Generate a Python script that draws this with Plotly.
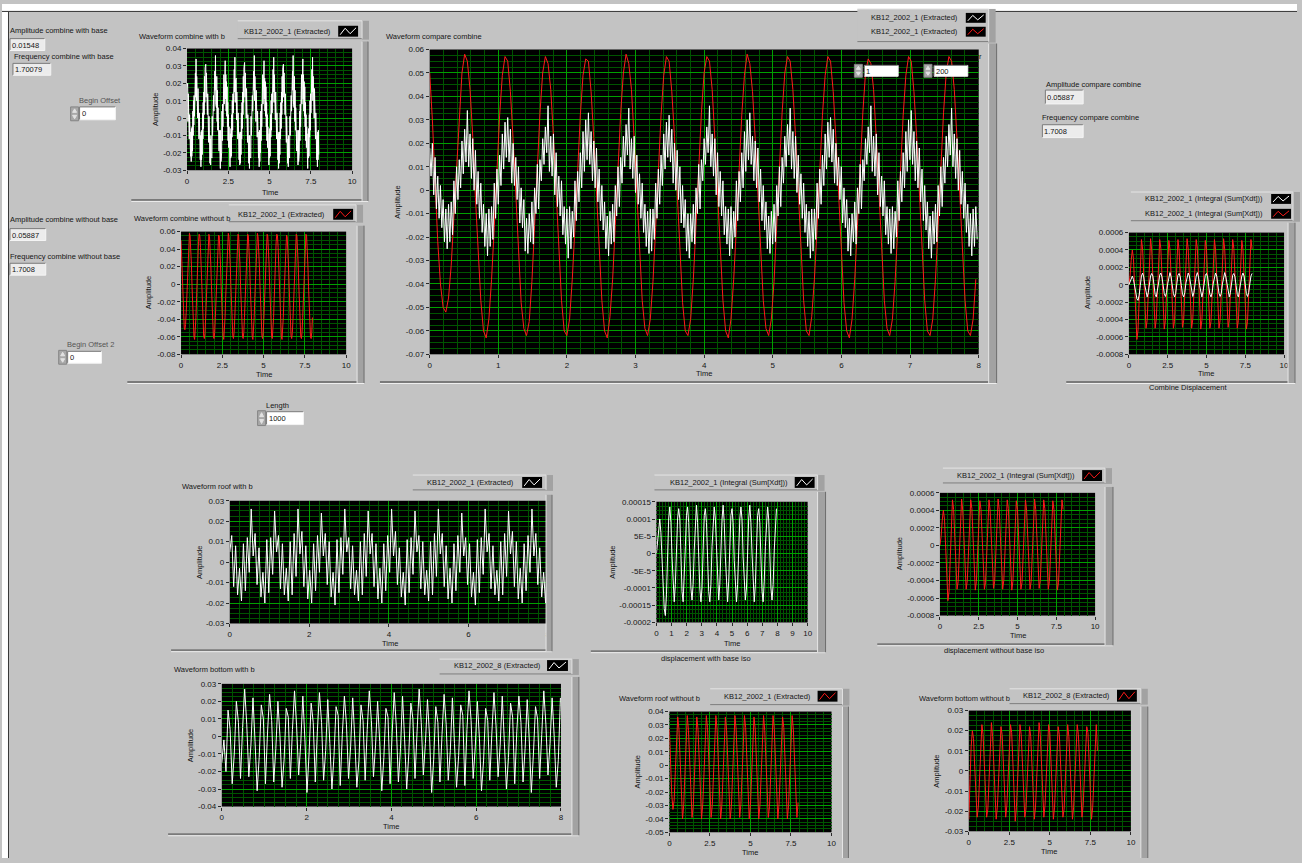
import plotly.graph_objects as go

W, H = 1302, 863
FONT = "Liberation Sans, Arial, Helvetica, sans-serif"
PANEL = "#c3c3c3"
MAJOR = "#00a000"
MINOR = "#005400"
INK = "#161616"
WHITE_TRACE = "#ffffff"
RED_TRACE = "#ff1a1a"

# ---------------- waveform data ----------------
DT_COMBINE_WITH = 0.0196   # s between samples, combine waveform with base
DT_COMBINE = 0.0392        # s between samples, combine waveform without base
DT_WITH_BASE = 0.049       # s between samples of roof/bottom "with base" waveforms
DT_SINE = 0.0735           # s between samples of the smoother waveforms

combine_with_base = [
    0.018, 0.006, 0.020, -0.002, 0.014, -0.008, 0.006, -0.012, 0.002, -0.016, -0.004, -0.022, -0.008, -0.025,
    -0.006, -0.022, -0.005, -0.019, 0.004, -0.010, 0.010, -0.004, 0.013, 0.001, 0.021, 0.007, 0.026, 0.012,
    0.034, 0.010, 0.024, 0.005, 0.022, 0.000, 0.017, -0.006, 0.008, -0.012, 0.003, -0.018, -0.006, -0.024, -0.010,
    -0.028, -0.008, -0.024, -0.007, -0.021, 0.003, -0.012, 0.009, -0.006, 0.015, 0.002, 0.024, 0.009, 0.029, 0.014,
    0.031, 0.012, 0.026, 0.003, 0.020, 0.002, 0.014, -0.004, 0.010, -0.014, 0.001, -0.016, -0.004, -0.026, -0.012,
    -0.027, -0.010, -0.022, -0.005, -0.023, 0.001, -0.010, 0.011, -0.008, 0.013, 0.004, 0.022, 0.011, 0.027, 0.016,
    0.036, 0.008, 0.023, 0.006, 0.024, -0.002, 0.016, -0.007, 0.006, -0.011, 0.004, -0.019, -0.007, -0.023, -0.008,
    -0.029, -0.007, -0.025, -0.009, -0.020, 0.004, -0.013, 0.008, -0.005, 0.016, 0.001, 0.025, 0.008, 0.030, 0.013,
    0.033, 0.011, 0.025, 0.004, 0.021, 0.001, 0.018, -0.005, 0.009, -0.013, 0.002, -0.017, -0.005, -0.025, -0.011,
    -0.028, -0.009, -0.023, -0.006, -0.022, 0.002, -0.011, 0.010, -0.007, 0.014, 0.003, 0.023, 0.010, 0.028, 0.015,
    0.035, 0.009, 0.022, 0.005, 0.023, -0.001, 0.015, -0.006, 0.007, -0.012, 0.003, -0.018, -0.006, -0.024, -0.009,
    -0.027, -0.008, -0.026, -0.008, -0.021, 0.003, -0.012, 0.009, -0.006, 0.015, 0.002, 0.024, 0.009, 0.029, 0.014,
    0.032, 0.012, 0.026, 0.003, 0.020, 0.000, 0.017, -0.004, 0.010, -0.014, 0.002, -0.016, -0.004, -0.026, -0.010,
    -0.029, -0.010, -0.022, -0.006, -0.023, 0.001, -0.010, 0.011, -0.008, 0.013, 0.004, 0.022, 0.011, 0.027, 0.016,
    0.036, 0.010, 0.024, 0.006, 0.022, -0.002, 0.016, -0.007, 0.008, -0.011, 0.004, -0.019, -0.007, -0.023, -0.008,
    -0.028, -0.007, -0.025, -0.009, -0.020, 0.004, -0.013, 0.008, -0.005, 0.016, 0.001, 0.025, 0.008, 0.030, 0.013,
    0.033, 0.011, 0.023, 0.004, 0.021, 0.001, 0.018, -0.005, 0.009, -0.013, 0.002, -0.017, -0.005, -0.025, -0.011,
    -0.027, -0.009, -0.023, -0.006, -0.022, 0.002, -0.011, 0.010, -0.007, 0.014, 0.003, 0.023, 0.010, 0.028, 0.015,
    0.035, 0.009, 0.025, 0.005, 0.023, -0.001, 0.015, -0.006, 0.007, -0.012, 0.003, -0.018, -0.006, -0.024, -0.009,
    -0.029, -0.008, -0.026, -0.008, -0.021, 0.003, -0.012, 0.009, -0.006, 0.015, 0.002, 0.024, 0.009, 0.029, 0.014,
    0.031, 0.012, 0.026, 0.003, 0.020, 0.002, 0.014, -0.004, 0.010, -0.014, 0.001, -0.016, -0.004, -0.026, -0.012,
    -0.028, -0.010, -0.022, -0.005, -0.023, 0.001, -0.010, 0.011, -0.008, 0.013, 0.004, 0.022, 0.011, 0.027, 0.016,
    0.036, 0.008, 0.023, 0.006, 0.024, -0.002, 0.016, -0.007, 0.006, -0.011, 0.004, -0.019, -0.007, -0.023, -0.008,
    -0.027, -0.007, -0.025, -0.009, -0.020, 0.004, -0.013, 0.008, -0.005, 0.016, 0.001, 0.025, 0.008, 0.030, 0.013,
    0.034, 0.011, 0.025, 0.004, 0.021, 0.001, 0.018, -0.005, 0.009, -0.013, 0.002, -0.017, -0.005, -0.025, -0.011,
    -0.029, -0.009, -0.023, -0.006, -0.022, 0.002, -0.011, 0.010, -0.007, 0.014, 0.003, 0.023, 0.010, 0.028, 0.015,
    0.035, 0.010, 0.024, 0.005, 0.022, 0.000, 0.017, -0.006, 0.008, -0.012, 0.003, -0.018, -0.006, -0.024, -0.010,
    -0.028, -0.008, -0.024, -0.007, -0.021,
]

combine_without_base = [
    0.050, 0.030, 0.004, -0.022, -0.040, -0.050, -0.052, -0.046, -0.032, -0.012, 0.011, 0.033, 0.050, 0.058, 0.055,
    0.043, 0.023, -0.003, -0.027, -0.047, -0.060, -0.063, -0.055, -0.038, -0.016, 0.010, 0.032, 0.049, 0.057, 0.055,
    0.042, 0.022, -0.002, -0.026, -0.048, -0.059, -0.062, -0.056, -0.039, -0.015, 0.009, 0.033, 0.050, 0.057, 0.054,
    0.043, 0.023, -0.002, -0.027, -0.047, -0.060, -0.062, -0.055, -0.038, -0.016, 0.010, 0.032, 0.049, 0.056, 0.055,
    0.042, 0.022, -0.003, -0.027, -0.047, -0.060, -0.063, -0.054, -0.038, -0.015, 0.010, 0.033, 0.050, 0.058, 0.054,
    0.043, 0.022, -0.002, -0.026, -0.047, -0.059, -0.062, -0.055, -0.039, -0.016, 0.009, 0.032, 0.049, 0.057, 0.055,
    0.042, 0.023, -0.002, -0.027, -0.048, -0.060, -0.062, -0.055, -0.038, -0.015, 0.010, 0.033, 0.050, 0.057, 0.055,
    0.043, 0.022, -0.003, -0.027, -0.047, -0.060, -0.063, -0.055, -0.038, -0.016, 0.010, 0.032, 0.049, 0.058, 0.054,
    0.042, 0.022, -0.002, -0.026, -0.047, -0.059, -0.062, -0.055, -0.039, -0.015, 0.009, 0.033, 0.050, 0.057, 0.055,
    0.043, 0.023, -0.002, -0.027, -0.047, -0.060, -0.062, -0.054, -0.038, -0.016, 0.010, 0.032, 0.049, 0.057, 0.055,
    0.042, 0.022, -0.003, -0.027, -0.048, -0.060, -0.063, -0.055, -0.038, -0.015, 0.010, 0.033, 0.050, 0.056, 0.054,
    0.043, 0.022, -0.002, -0.026, -0.047, -0.059, -0.062, -0.055, -0.039, -0.016, 0.009, 0.032, 0.049, 0.057, 0.055,
    0.042, 0.023, -0.002, -0.027, -0.047, -0.060, -0.062, -0.055, -0.038, -0.015, 0.010, 0.033, 0.050, 0.057, 0.055,
    0.043, 0.022, -0.003, -0.027, -0.047, -0.060, -0.062, -0.055, -0.038,
]

roof_with_base = [
    0.005, 0.013, -0.012, 0.008, -0.016, -0.003, -0.019, 0.009, -0.014, 0.012, -0.005,
    0.026, 0.003, 0.014, -0.011, 0.007, -0.017, -0.005, -0.020, 0.011, -0.015, 0.012, -0.006,
    0.025, 0.005, 0.013, -0.013, 0.009, -0.016, -0.003, -0.019, 0.010, -0.016, 0.014, -0.007,
    0.026, 0.004, 0.015, -0.012, 0.008, -0.018, -0.004, -0.020, 0.009, -0.014, 0.013, -0.005,
    0.024, 0.003, 0.014, -0.011, 0.010, -0.017, -0.005, -0.021, 0.011, -0.015, 0.012, -0.006,
    0.026, 0.005, 0.012, -0.013, 0.008, -0.016, -0.004, -0.019, 0.010, -0.016, 0.014, -0.007,
    0.025, 0.004, 0.014, -0.012, 0.009, -0.018, -0.003, -0.020, 0.009, -0.014, 0.013, -0.005,
    0.026, 0.003, 0.015, -0.011, 0.007, -0.017, -0.005, -0.021, 0.011, -0.015, 0.012, -0.006,
    0.025, 0.005, 0.013, -0.013, 0.010, -0.016, -0.004, -0.019, 0.010, -0.016, 0.014, -0.007,
    0.026, 0.004, 0.014, -0.012, 0.008, -0.018, -0.003, -0.020, 0.009, -0.014, 0.013, -0.005,
    0.024, 0.003, 0.012, -0.011, 0.009, -0.017, -0.005, -0.021, 0.011, -0.015, 0.012, -0.006,
    0.026, 0.005, 0.014, -0.013, 0.008, -0.016, -0.004, -0.019, 0.010, -0.016, 0.014, -0.007,
    0.025, 0.004, 0.015, -0.012, 0.010, -0.018, -0.003, -0.020, 0.009, -0.014, 0.013, -0.005,
    0.026, 0.003, 0.014, -0.011, 0.007, -0.017, -0.005, -0.020, 0.006,
]

bottom_with_base = [
    -0.015, -0.002, -0.020, 0.015, 0.004, -0.027, -0.010, 0.020, 0.008, -0.024, 0.005,
    0.027, 0.007, -0.023, -0.005, 0.022, -0.003, -0.031, -0.012, 0.018, 0.010, -0.027, 0.002,
    0.024, 0.009, -0.026, -0.007, 0.020, 0.000, -0.029, -0.013, 0.016, 0.011, -0.024, 0.004,
    0.026, 0.006, -0.022, -0.004, 0.023, -0.002, -0.032, -0.010, 0.019, 0.008, -0.026, 0.003,
    0.025, 0.008, -0.025, -0.008, 0.021, -0.004, -0.030, -0.011, 0.017, 0.012, -0.028, 0.001,
    0.023, 0.007, -0.024, -0.006, 0.022, -0.001, -0.029, -0.014, 0.018, 0.009, -0.025, 0.004,
    0.026, 0.009, -0.023, -0.005, 0.020, -0.003, -0.031, -0.012, 0.016, 0.011, -0.027, 0.002,
    0.025, 0.006, -0.026, -0.007, 0.023, -0.002, -0.030, -0.010, 0.019, 0.010, -0.024, 0.003,
    0.027, 0.008, -0.022, -0.004, 0.021, 0.000, -0.032, -0.013, 0.017, 0.008, -0.026, 0.001,
    0.024, 0.007, -0.025, -0.008, 0.022, -0.004, -0.029, -0.011, 0.018, 0.012, -0.028, 0.004,
    0.026, 0.009, -0.024, -0.006, 0.020, -0.001, -0.031, -0.014, 0.016, 0.009, -0.025, 0.002,
    0.025, 0.006, -0.023, -0.005, 0.023, -0.003, -0.030, -0.012, 0.019, 0.011, -0.027, 0.003,
    0.023, 0.008, -0.026, -0.007, 0.021, -0.002, -0.032, -0.010, 0.017, 0.010, -0.024, 0.001,
    0.026, 0.007, -0.022, -0.004, 0.022, 0.000, -0.029, -0.013, 0.022,
]

roof_without_base = [
    0.027, 0.000, -0.022, -0.033, -0.026, -0.004, 0.023, 0.036,
    0.027, 0.001, -0.027, -0.040, -0.030, -0.004, 0.024, 0.037,
    0.026, 0.002, -0.026, -0.039, -0.031, -0.003, 0.025, 0.036,
    0.027, 0.001, -0.027, -0.040, -0.029, -0.004, 0.024, 0.037,
    0.028, 0.000, -0.028, -0.039, -0.030, -0.005, 0.023, 0.037,
    0.027, 0.001, -0.027, -0.040, -0.030, -0.004, 0.024, 0.036,
    0.026, 0.002, -0.026, -0.040, -0.031, -0.003, 0.025, 0.037,
    0.027, 0.001, -0.027, -0.039, -0.029, -0.004, 0.024, 0.037,
    0.028, 0.000, -0.028, -0.040, -0.030, -0.005, 0.023, 0.036,
    0.027, 0.001, -0.027, -0.040, -0.030, -0.004, 0.024, 0.037,
    0.026, 0.002, -0.026, -0.039, -0.031, -0.003, 0.025, 0.037,
    0.027, 0.001, -0.027, -0.040, -0.029, -0.004, 0.024, 0.036,
    0.028, 0.000, -0.028, -0.040, -0.030, -0.005, 0.023, 0.037,
    0.027, 0.001, -0.027, -0.039, -0.028,
]

bottom_without_base = [
    -0.024, -0.004, 0.012, 0.020, 0.016, 0.002, -0.014, -0.023,
    -0.018, -0.003, 0.014, 0.023, 0.018, 0.003, -0.014, -0.023,
    -0.019, -0.002, 0.015, 0.024, 0.017, 0.002, -0.015, -0.024,
    -0.018, -0.003, 0.014, 0.022, 0.018, 0.004, -0.013, -0.023,
    -0.017, -0.004, 0.013, 0.023, 0.019, 0.003, -0.014, -0.025,
    -0.018, -0.003, 0.014, 0.023, 0.018, 0.003, -0.014, -0.023,
    -0.019, -0.002, 0.015, 0.022, 0.017, 0.002, -0.015, -0.024,
    -0.018, -0.003, 0.014, 0.024, 0.018, 0.004, -0.013, -0.023,
    -0.017, -0.004, 0.013, 0.023, 0.019, 0.003, -0.014, -0.024,
    -0.018, -0.003, 0.014, 0.022, 0.018, 0.003, -0.014, -0.023,
    -0.019, -0.002, 0.015, 0.023, 0.017, 0.002, -0.015, -0.024,
    -0.018, -0.003, 0.014, 0.023, 0.018, 0.004, -0.013, -0.023,
    -0.017, -0.004, 0.013, 0.022, 0.019, 0.003, -0.014, -0.024,
    -0.018, -0.003, 0.014, 0.023, 0.010,
]

disp_with_base = [
    0.0, 0.00003, 0.00007, 0.0001, 0.00006, -0.00003, -0.0001, -0.00016, -0.00018, -0.00012, -0.00001, 0.0001,
    0.000135, 0.00009, -0.00001, -0.0001, -0.00014, -0.00009, 0.00001, 0.0001,
    0.00013, 0.00010, 0.00000, -0.00011, -0.00014, -0.00008, 0.00002, 0.00011,
    0.000135, 0.00009, -0.00001, -0.0001, -0.000135, -0.00009, 0.00001, 0.0001,
    0.00014, 0.00009, -0.00002, -0.0001, -0.00014, -0.0001, 0.00001, 0.00011,
    0.00013, 0.00009, -0.00001, -0.00011, -0.00014, -0.00009, 0.00002, 0.0001,
    0.000135, 0.0001, 0.00000, -0.0001, -0.000135, -0.00009, 0.00001, 0.0001,
    0.00014, 0.00009, -0.00001, -0.0001, -0.00014, -0.00008, 0.00001, 0.00011,
    0.00013, 0.00009, -0.00002, -0.00011, -0.00014, -0.00009, 0.00002, 0.0001,
    0.000135, 0.0001, -0.00001, -0.0001, -0.000135, -0.0001, 0.00001, 0.0001,
    0.00014, 0.00009, 0.00000, -0.0001, -0.00014, -0.00009, 0.00001, 0.00011,
    0.00013, 0.00009, -0.00001, -0.00011, -0.00014, -0.00008, 0.00002, 0.0001,
    0.000135, 0.0001, -0.00001, -0.0001, -0.000135, -0.00009, 0.00001, 0.0001,
    0.00013,
]

disp_without_base = [
    0.0, 0.0001, 0.00028, 0.0004, 0.0003, 0.00002, -0.0004, -0.00063, -0.00052, -0.0001, 0.0003,
    0.00052, 0.00041, 0.00006, -0.00032, -0.00050, -0.00041, -0.00006, 0.00032,
    0.00053, 0.00040, 0.00005, -0.00033, -0.00050, -0.00040, -0.00007, 0.00031,
    0.00052, 0.00042, 0.00006, -0.00032, -0.00051, -0.00041, -0.00005, 0.00033,
    0.00051, 0.00041, 0.00007, -0.00031, -0.00050, -0.00042, -0.00006, 0.00032,
    0.00052, 0.00040, 0.00006, -0.00032, -0.00049, -0.00041, -0.00006, 0.00031,
    0.00053, 0.00041, 0.00005, -0.00033, -0.00050, -0.00040, -0.00007, 0.00032,
    0.00052, 0.00042, 0.00006, -0.00032, -0.00051, -0.00041, -0.00005, 0.00033,
    0.00051, 0.00041, 0.00007, -0.00031, -0.00050, -0.00042, -0.00006, 0.00032,
    0.00052, 0.00040, 0.00006, -0.00032, -0.00050, -0.00041, -0.00006, 0.00031,
    0.00053, 0.00041, 0.00005, -0.00033, -0.00049, -0.00040, -0.00007, 0.00032,
    0.00052, 0.00042, 0.00006, -0.00032, -0.00050, -0.00041, -0.00005, 0.00033,
    0.00051, 0.00041, 0.00007, -0.00031, -0.00051, -0.00042, -0.00006, 0.00032,
    0.00052, 0.00041,
]

# ---------------- tick labels ----------------
X_TICKS_0_10 = [0, 2.5, 5, 7.5, 10]
X_TICKS_0_8_BY1 = [0, 1, 2, 3, 4, 5, 6, 7, 8]
X_TICKS_0_8_BY2 = [0, 2, 4, 6, 8]
X_TICKS_0_10_BY1 = [0, 1, 2, 3, 4, 5, 6, 7, 8, 9, 10]
Y_TICKS_COMBINE_WITH = [-0.03, -0.02, -0.01, 0, 0.01, 0.02, 0.03, 0.04]
Y_TICKS_COMBINE_WITHOUT = [-0.08, -0.06, -0.04, -0.02, 0, 0.02, 0.04, 0.06]
Y_TICKS_COMPARE = [-0.07, -0.06, -0.05, -0.04, -0.03, -0.02, -0.01, 0, 0.01, 0.02, 0.03, 0.04, 0.05, 0.06]
Y_TICKS_DISP = [-0.0008, -0.0006, -0.0004, -0.0002, 0, 0.0002, 0.0004, 0.0006]
Y_TICKS_DISP_WITH = [-0.0002, -0.00015, -0.0001, -0.00005, 0, 0.00005, 0.0001, 0.00015]
Y_TEXT_DISP_WITH = ["-0.0002", "-0.00015", "-0.0001", "-5E-5", "0", "5E-5", "0.0001", "0.00015"]
Y_TICKS_ROOF_WITH = [-0.03, -0.02, -0.01, 0, 0.01, 0.02, 0.03]
Y_TICKS_BOTTOM_WITH = [-0.04, -0.03, -0.02, -0.01, 0, 0.01, 0.02, 0.03]
Y_TICKS_ROOF_WITHOUT = [-0.05, -0.04, -0.03, -0.02, -0.01, 0, 0.01, 0.02, 0.03, 0.04]
Y_TICKS_BOTTOM_WITHOUT = [-0.03, -0.02, -0.01, 0, 0.01, 0.02, 0.03]

LEG_EXTRACTED_1 = "KB12_2002_1 (Extracted)"
LEG_EXTRACTED_8 = "KB12_2002_8 (Extracted)"
LEG_INTEGRAL_1 = "KB12_2002_1 (Integral (Sum[Xdt]))"

# ---------------- helpers ----------------
fig = go.Figure()
shapes = []
annotations = []
TXT_SIZE = 7.5


def X(p):
    return p / W


def Y(p):
    return 1 - p / H


def fmt(v):
    return "0" if v == 0 else "%g" % v


def rect(x0, y0, x1, y1, fill, line=None, lw=1):
    shapes.append(dict(type="rect", xref="paper", yref="paper",
                       x0=X(x0), x1=X(x1), y0=Y(y1), y1=Y(y0), fillcolor=fill,
                       line=dict(color=line if line else fill, width=lw if line else 0),
                       layer="above"))


def seg(x0, y0, x1, y1, color, w=1):
    shapes.append(dict(type="line", xref="paper", yref="paper",
                       x0=X(x0), y0=Y(y0), x1=X(x1), y1=Y(y1),
                       line=dict(color=color, width=w), layer="above"))


def path(points, color, w=1, fill=None, close=False):
    d = "M " + " L ".join("%.5f,%.5f" % (X(a), Y(b)) for a, b in points) + (" Z" if close else "")
    shapes.append(dict(type="path", xref="paper", yref="paper", path=d,
                       line=dict(color=color, width=w),
                       fillcolor=fill if fill else "rgba(0,0,0,0)", layer="above"))


def text(x, y, s, anchor="left", size=TXT_SIZE, color=INK, angle=0):
    annotations.append(dict(xref="paper", yref="paper", x=X(x), y=Y(y), text=s,
                            showarrow=False, xanchor=anchor, yanchor="middle",
                            textangle=angle, borderpad=0,
                            font=dict(family=FONT, size=size, color=color)))


def numbox(x0, y0, x1, y1, value, fill="#ececec"):
    rect(x0, y0, x1, y1, fill)
    seg(x0, y0, x1, y0, "#7a7a7a")
    seg(x0, y0, x0, y1, "#7a7a7a")
    seg(x0, y1, x1, y1, "#f4f4f4")
    seg(x1, y0, x1, y1, "#f4f4f4")
    text(x0 + 1, (y0 + y1) / 2 + 0.5, value)


def spinner(x0, y0, x1, y1):
    rect(x0, y0, x1, y1, "#a8a8a8", "#858585")
    xm = (x0 + x1) / 2
    ym = (y0 + y1) / 2
    path([(x0 + 2, ym - 1.5), (xm, y0 + 2), (x1 - 2, ym - 1.5)], "#e2e2e2", 1, "#e2e2e2", True)
    path([(x0 + 2, ym + 1.5), (xm, y1 - 2), (x1 - 2, ym + 1.5)], "#e2e2e2", 1, "#e2e2e2", True)


def legend_box(x0, y0, x1, y1, rows, text_right, sw0, sw1):
    rect(x0, y0, x1, y1, PANEL)
    seg(x0, y0, x1, y0, "#e4e4e4")
    seg(x0, y1, x1, y1, "#7d7d7d")
    rect(x1, y0, x1 + 7, y1 + 1, "#a2a2a2")
    seg(x1, y0, x1, y1, "#e2e2e2")
    for label, color, sy0, sy1 in rows:
        text(text_right, (sy0 + sy1) / 2, label, anchor="right")
        rect(sw0, sy0, sw1, sy1, "#000000")
        path([(sw0 + 2, sy1 - 2), (sw0 + 7, sy0 + 2.5), (sw0 + 12, sy1 - 3), (sw1 - 2, sy0 + 2)], color, 1)


def frame(by, bx0, bx1, rx0, rx1, ry0, ry1):
    if by is not None:
        seg(bx0, by, bx1, by, "#7a7a7a", 2)
        seg(bx0, by + 1.5, bx1, by + 1.5, "#eeeeee", 1)
    rect(rx0, ry0, rx1, ry1, "#a2a2a2")
    seg(rx0, ry0, rx0, ry1, "#e6e6e6")
    seg(rx1, ry0, rx1, ry1, "#6e6e6e")


axis_common = dict(showgrid=True, gridcolor=MAJOR, gridwidth=1, zeroline=False, showline=False,
                   ticks="outside", ticklen=3, tickwidth=1, tickcolor="#2a2a2a",
                   tickfont=dict(family=FONT, size=8, color=INK), fixedrange=True)


def add_panel(n, box, xr, xt, xminor, yr, yt, yminor, series, ytext=None):
    x0, y0, x1, y1 = box
    s = "" if n == 1 else str(n)
    fig.update_layout({
        "xaxis" + s: dict(domain=[X(x0), X(x1)], range=xr, anchor="y" + s,
                          tickmode="array", tickvals=xt, ticktext=[fmt(v) for v in xt],
                          minor=dict(tickmode="linear", tick0=0, dtick=xminor, showgrid=True,
                                     gridcolor=MINOR, gridwidth=1, ticks=""),
                          **axis_common),
        "yaxis" + s: dict(domain=[Y(y1), Y(y0)], range=yr, anchor="x" + s,
                          tickmode="array", tickvals=yt,
                          ticktext=ytext if ytext else [fmt(v) for v in yt],
                          minor=dict(tickmode="linear", tick0=0, dtick=yminor, showgrid=True,
                                     gridcolor=MINOR, gridwidth=1, ticks=""),
                          **axis_common),
    })
    for vals, dt, color in series:
        fig.add_trace(go.Scatter(x=[i * dt for i in range(len(vals))], y=vals, mode="lines",
                                 line=dict(color=color, width=1), xaxis="x" + s, yaxis="y" + s,
                                 hoverinfo="skip", showlegend=False))


# ---------------- graphs ----------------
add_panel(1, (186, 45, 352, 168), [0, 10], X_TICKS_0_10, 0.5, [-0.03, 0.04], Y_TICKS_COMBINE_WITH, 0.0025,
          [(combine_with_base, DT_COMBINE_WITH, WHITE_TRACE)])
add_panel(2, (180, 230, 346, 354), [0, 10], X_TICKS_0_10, 0.5, [-0.08, 0.06], Y_TICKS_COMBINE_WITHOUT, 0.005,
          [(combine_without_base, DT_COMBINE, RED_TRACE)])
add_panel(3, (430, 46, 982, 354), [0, 8], X_TICKS_0_8_BY1, 0.2, [-0.07, 0.06], Y_TICKS_COMPARE, 0.0025,
          [(combine_without_base, DT_COMBINE, RED_TRACE), (combine_with_base, DT_COMBINE_WITH, WHITE_TRACE)])
add_panel(4, (1133, 231, 1289, 354), [0, 10], X_TICKS_0_10, 0.5, [-0.0008, 0.0006], Y_TICKS_DISP, 0.00005,
          [(disp_without_base, DT_SINE, RED_TRACE), (disp_with_base, DT_SINE, WHITE_TRACE)])
add_panel(5, (229, 502, 549, 626), [0, 8], X_TICKS_0_8_BY2, 0.25, [-0.03, 0.03], Y_TICKS_ROOF_WITH, 0.0025,
          [(roof_with_base, DT_WITH_BASE, WHITE_TRACE)])
add_panel(6, (658, 503, 810, 625), [0, 10], X_TICKS_0_10_BY1, 0.2, [-0.0002, 0.00015], Y_TICKS_DISP_WITH, 0.0000125,
          [(disp_with_base, DT_SINE, WHITE_TRACE)], ytext=Y_TEXT_DISP_WITH)
add_panel(7, (943, 494, 1099, 618), [0, 10], X_TICKS_0_10, 0.5, [-0.0008, 0.0006], Y_TICKS_DISP, 0.00005,
          [(disp_without_base, DT_SINE, RED_TRACE)])
add_panel(8, (221, 687, 562, 811), [0, 8], X_TICKS_0_8_BY2, 0.25, [-0.04, 0.03], Y_TICKS_BOTTOM_WITH, 0.0025,
          [(bottom_with_base, DT_WITH_BASE, WHITE_TRACE)])
add_panel(9, (671, 715, 834, 837), [0, 10], X_TICKS_0_10, 0.5, [-0.05, 0.04], Y_TICKS_ROOF_WITHOUT, 0.0025,
          [(roof_without_base, DT_SINE, RED_TRACE)])
add_panel(10, (972, 714, 1135, 836), [0, 10], X_TICKS_0_10, 0.5, [-0.03, 0.03], Y_TICKS_BOTTOM_WITHOUT, 0.0025,
          [(bottom_without_base, DT_SINE, RED_TRACE)])

# ---------------- panel decoration ----------------
rect(0, 0, W, 7, "#ffffff")
seg(0, 7.5, W, 7.5, "#333333", 1)
seg(6.5, 8, 6.5, H, "#333333", 1)
rect(0, 8, 6, H, "#ffffff")

# graph frames
frame(198, 130, 368, 362, 368, 38, 199)
frame(382, 126, 364, 357, 364, 224, 383)
frame(382, 380, 1000, 992, 1000, 40, 383)
frame(382, 1070, 1300, 1293, 1300, 221, 383)
frame(653, 170, 553, 547, 553, 496, 654)
frame(654, 592, 828, 820, 828, 493, 655)
frame(647, 880, 1117, 1109, 1117, 488, 648)
frame(839, 167, 580, 573, 580, 680, 840)
frame(None, 0, 0, 845, 851, 710, 863)
frame(None, 0, 0, 1145, 1152, 710, 863)

# legends
legend_box(237, 17, 362, 35, [(LEG_EXTRACTED_1, WHITE_TRACE, 22, 33)], 332, 338, 358)
legend_box(228, 203, 356, 220, [(LEG_EXTRACTED_1, RED_TRACE, 207, 218)], 326, 333, 353)
legend_box(860, 5, 992, 38, [(LEG_EXTRACTED_1, WHITE_TRACE, 9, 19), (LEG_EXTRACTED_1, RED_TRACE, 23, 33)], 962, 969, 989)
legend_box(1135, 190, 1298, 219, [(LEG_INTEGRAL_1, WHITE_TRACE, 192, 202), (LEG_INTEGRAL_1, RED_TRACE, 207, 217)], 1269, 1276, 1296)
legend_box(413, 476, 547, 491, [(LEG_EXTRACTED_1, WHITE_TRACE, 478, 489)], 516, 523, 543)
legend_box(656, 476, 820, 491, [(LEG_INTEGRAL_1, WHITE_TRACE, 478, 489)], 791, 797, 817)
legend_box(946, 469, 1109, 484, [(LEG_INTEGRAL_1, RED_TRACE, 471, 482)], 1080, 1086, 1106)
legend_box(440, 662, 573, 677, [(LEG_EXTRACTED_8, WHITE_TRACE, 663, 674)], 543, 548, 569)
legend_box(712, 692, 845, 708, [(LEG_EXTRACTED_1, RED_TRACE, 694, 705)], 814, 820, 840)
legend_box(1013, 692, 1145, 707, [(LEG_EXTRACTED_8, RED_TRACE, 693, 705)], 1115, 1121, 1141)

# numeric indicators
text(7, 27, "Amplitude combine with base")
numbox(8, 35, 43, 47, "0.01548")
text(11, 53, "Frequency combine with base")
numbox(11, 60, 49, 72, "1.70079")
text(7, 218, "Amplitude combine without base")
numbox(8, 227, 44, 239, "0.05887")
text(7, 255, "Frequency combine without base")
numbox(8, 262, 44, 274, "1.7008")
text(1049, 81, "Amplitude compare combine")
numbox(1049, 87, 1087, 101, "0.05887")
text(1045, 115, "Frequency compare combine")
numbox(1046, 122, 1087, 135, "1.7008")

# controls
text(99, 98, "Begin Offset", anchor="center", color="#555555")
spinner(69, 104, 77, 118)
numbox(78, 104, 114, 117, "0", fill="#ffffff")
text(89, 344, "Begin Offset 2", anchor="center", color="#555555")
spinner(57, 350, 65, 364)
numbox(66, 351, 100, 363, "0", fill="#ffffff")
text(277, 406, "Length", anchor="center")
spinner(257, 411, 265, 426)
numbox(266, 412, 303, 425, "1000", fill="#ffffff")
spinner(857, 61, 865, 74)
numbox(867, 62, 901, 73, "1", fill="#ffffff")
spinner(927, 61, 935, 74)
numbox(937, 62, 971, 73, "200", fill="#ffffff")
text(981, 53, "r")

# graph titles and captions
text(137, 33, "Waveform combine with b")
text(132, 217, "Waveform combine without b")
text(385, 33, "Waveform compare combine")
text(180, 488, "Waveform roof with b")
text(172, 673, "Waveform bottom with b")
text(619, 702, "Waveform roof without b")
text(921, 702, "Waveform bottom without b")
text(1192, 388, "Combine Displacement", anchor="center")
text(708, 661, "displacement with base iso", anchor="center")
text(997, 653, "displacement without base iso", anchor="center")

# axis titles
for ax, ay, tx, ty in [
    (155, 107, 269, 190),
    (148, 292, 263, 374),
    (398, 200, 706, 373),
    (1092, 292, 1211, 373),
    (198, 564, 390, 646),
    (613, 564, 734, 646),
    (902, 556, 1021, 638),
    (189, 749, 391, 831),
    (639, 776, 752, 857),
    (940, 775, 1053, 856),
]:
    text(ax, ay, "Amplitude", anchor="center", angle=-90)
    text(tx, ty, "Time", anchor="center")

fig.update_layout(
    width=W, height=H, autosize=False,
    margin=dict(l=0, r=0, t=0, b=0, pad=0),
    paper_bgcolor=PANEL, plot_bgcolor="#000000",
    font=dict(family=FONT, size=8, color=INK),
    showlegend=False, hovermode=False,
    shapes=shapes, annotations=annotations,
)

fig.write_html("out.html", include_plotlyjs=True, full_html=True,
               config={"displayModeBar": False, "staticPlot": True},
               post_script="document.body.style.margin='0';document.body.style.overflow='hidden';")
